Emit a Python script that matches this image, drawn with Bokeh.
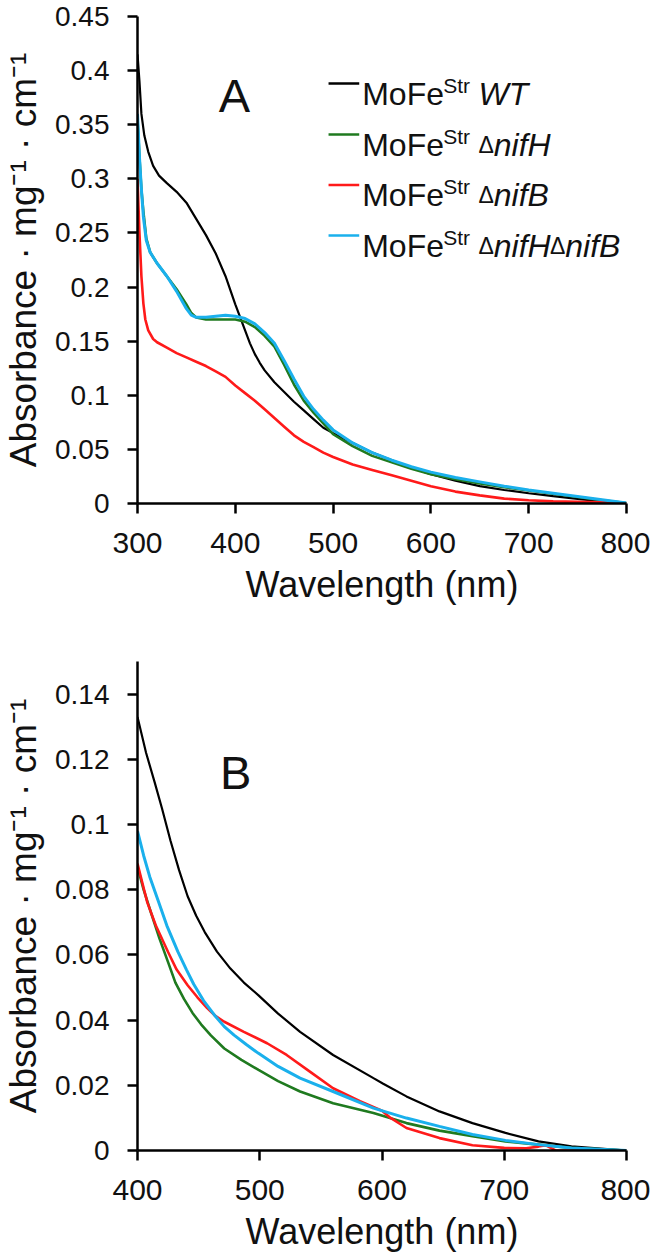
import math
from bokeh.plotting import figure
from bokeh.models import Range1d, FixedTicker, CustomJSTickFormatter, Label
from bokeh.layouts import column
from bokeh.embed import file_html
from bokeh.resources import INLINE

FONT = "Liberation Sans"

# ---------------- data: panel A ----------------
a_wt_x = [300, 302, 304, 307, 311, 316, 322, 330, 340, 350, 362, 370, 380, 390, 400, 405, 410, 415, 420,
          425, 430, 440, 450, 460, 470, 480, 490, 500, 520, 540, 560, 580, 600, 625, 650, 675, 700, 725,
          750, 775, 800]
a_wt_y = [0.415, 0.39, 0.36, 0.34, 0.325, 0.312, 0.303, 0.296, 0.288, 0.278, 0.26, 0.248, 0.231, 0.21,
          0.184, 0.172, 0.160, 0.148, 0.138, 0.130, 0.123, 0.112, 0.103, 0.094, 0.086, 0.078, 0.070,
          0.065, 0.056, 0.047, 0.040, 0.033, 0.027, 0.021, 0.016, 0.0125, 0.0095, 0.0068, 0.0042,
          0.002, 0.0]

a_h_x = [300, 302, 304, 306, 309, 313, 320, 330, 340, 350, 355, 360, 370, 380, 390, 400, 410, 420, 430,
         440, 450, 460, 470, 480, 490, 500, 520, 540, 560, 580, 600, 625, 650, 675, 700, 725, 750, 775, 800]
a_h_y = [0.355, 0.32, 0.29, 0.27, 0.245, 0.232, 0.222, 0.21, 0.198, 0.184, 0.176, 0.172, 0.170, 0.170,
         0.170, 0.170, 0.168, 0.163, 0.155, 0.145, 0.128, 0.110, 0.095, 0.084, 0.074, 0.064, 0.053,
         0.044, 0.038, 0.032, 0.027, 0.0225, 0.0185, 0.015, 0.012, 0.009, 0.006, 0.003, 0.0005]

a_b_x = [300, 302, 304, 306, 308, 311, 316, 320, 330, 340, 350, 360, 370, 380, 390, 400, 410, 420, 430,
         440, 450, 460, 470, 480, 490, 500, 520, 540, 560, 580, 600, 625, 650, 675, 700, 725, 750, 775, 800]
a_b_y = [0.30, 0.25, 0.21, 0.185, 0.17, 0.16, 0.152, 0.149, 0.144, 0.139, 0.135, 0.131, 0.127, 0.122,
         0.117, 0.109, 0.102, 0.095, 0.087, 0.079, 0.071, 0.063, 0.057, 0.052, 0.047, 0.043, 0.036,
         0.031, 0.026, 0.021, 0.016, 0.011, 0.0075, 0.0045, 0.003, 0.002, 0.0015, 0.001, 0.0]

a_hb_x = [300, 302, 304, 306, 309, 313, 320, 330, 340, 350, 355, 360, 370, 380, 390, 400, 410, 420, 430,
          440, 450, 460, 470, 480, 490, 500, 520, 540, 560, 580, 600, 625, 650, 675, 700, 725, 750, 775, 800]
a_hb_y = [0.36, 0.32, 0.29, 0.265, 0.243, 0.232, 0.222, 0.21, 0.196, 0.180, 0.174, 0.172, 0.172, 0.173,
          0.174, 0.173, 0.171, 0.166, 0.158, 0.148, 0.132, 0.115, 0.099, 0.087, 0.077, 0.068, 0.056,
          0.047, 0.040, 0.034, 0.029, 0.024, 0.020, 0.016, 0.0125, 0.0095, 0.0065, 0.0035, 0.0005]

# ---------------- data: panel B ----------------
b_wt_x = [400, 407, 414, 420, 427, 434, 441, 448, 455, 465, 476, 487, 499, 515, 533, 560, 593, 601, 620,
          647, 674, 701, 728, 755, 800]
b_wt_y = [0.133, 0.122, 0.113, 0.105, 0.095, 0.086, 0.078, 0.072, 0.067, 0.061, 0.0558, 0.0515, 0.0476,
          0.042, 0.0364, 0.0293, 0.0222, 0.0205, 0.0166, 0.012, 0.0084, 0.0054, 0.0028, 0.0013, 0.0]

b_h_x = [400, 405, 411, 418, 425, 431, 438, 445, 452, 460, 471, 485, 499, 515, 533, 560, 593, 620, 647,
         674, 701, 728, 755, 800]
b_h_y = [0.087, 0.080, 0.073, 0.065, 0.0578, 0.0515, 0.0465, 0.0422, 0.0387, 0.0353, 0.0313, 0.0278,
         0.0247, 0.0213, 0.0181, 0.0145, 0.0115, 0.0084, 0.0061, 0.0044, 0.0028, 0.0018, 0.0008, 0.0]

b_b_x = [400, 404, 408, 415, 425, 432, 441, 449, 457, 464, 471, 487, 506, 522, 541, 560, 582, 600, 607,
         620, 647, 674, 700, 718, 728, 734, 738, 742, 770, 800]
b_b_y = [0.088, 0.082, 0.0761, 0.069, 0.0609, 0.0555, 0.0507, 0.047, 0.0437, 0.0412, 0.0395, 0.0364,
         0.0329, 0.0293, 0.0242, 0.0191, 0.0151, 0.0122, 0.0100, 0.0069, 0.0038, 0.0016, 0.0008, 0.0007,
         0.0012, 0.0016, 0.0008, 0.0, 0.0, 0.0]

b_hb_x = [400, 405, 410, 417, 424, 433, 440, 446, 454, 463, 471, 479, 489, 499, 515, 533, 560, 593, 620,
          647, 674, 701, 728, 755, 800]
b_hb_y = [0.098, 0.0905, 0.084, 0.0765, 0.069, 0.061, 0.0555, 0.051, 0.046, 0.0415, 0.038, 0.0354,
          0.0325, 0.0298, 0.0258, 0.0222, 0.0181, 0.013, 0.00995, 0.0074, 0.0049, 0.0031, 0.0018, 0.0008,
          0.0]

series_colors = ["#000000", "#1f7a1f", "#ff1a1a", "#1ab0ec"]
series_widths = [2.2, 2.6, 2.6, 3.0]
legend_suffix = [[("WT", "italic")],
                 [("Δ", "delta"), ("nifH", "italic")],
                 [("Δ", "delta"), ("nifB", "italic")],
                 [("Δ", "delta"), ("nifH", "italic"), ("Δ", "delta"), ("nifB", "italic")]]

a_xticks = [300, 400, 500, 600, 700, 800]
a_yticks = [0, 0.05, 0.1, 0.15, 0.2, 0.25, 0.3, 0.35, 0.4, 0.45]
b_xticks = [400, 500, 600, 700, 800]
b_yticks = [0, 0.02, 0.04, 0.06, 0.08, 0.1, 0.12, 0.14]

Y_TITLE = "Absorbance · mg⁻¹ · cm⁻¹"
X_TITLE = "Wavelength (nm)"

# Arial / Liberation Sans advance widths (em)
ADV = {"M": .833, "o": .556, "F": .611, "e": .556, "S": .667, "t": .278, "r": .333, " ": .278,
       "Δ": .668, "n": .556, "i": .222, "f": .278, "H": .722, "B": .667, "W": .944, "T": .611}


def text_width(s, size):
    return sum(ADV.get(c, .556) for c in s) * size


def make_panel(width, height, xr, yr, xticks, yticks, border, frame_page):
    p = figure(width=width, height=height, x_range=Range1d(*xr), y_range=Range1d(*yr),
               output_backend="svg", toolbar_location=None,
               min_border_left=border[0], min_border_right=border[1],
               min_border_top=border[2], min_border_bottom=border[3])
    p.grid.visible = False
    p.outline_line_color = None
    for ax in (p.xaxis[0], p.yaxis[0]):
        ax.axis_line_width = 2.5
        ax.axis_line_color = "black"
        ax.major_tick_line_width = 2.5
        ax.major_tick_line_color = "black"
        ax.major_tick_out = 10
        ax.major_tick_in = 0
        ax.minor_tick_out = 0
        ax.minor_tick_in = 0
        ax.major_label_text_font = FONT
        ax.major_label_text_color = "#111111"
        ax.axis_label_text_font = FONT
        ax.axis_label_text_font_style = "normal"
        ax.axis_label_text_color = "#111111"
    p.xaxis[0].ticker = FixedTicker(ticks=xticks)
    p.yaxis[0].ticker = FixedTicker(ticks=yticks)
    p.yaxis[0].formatter = CustomJSTickFormatter(code="return Number(tick.toFixed(3)).toString();")
    p.xaxis[0].major_label_text_font_size = "30px"
    p.yaxis[0].major_label_text_font_size = "28px"
    p.xaxis[0].major_label_standoff = 19
    p.yaxis[0].major_label_standoff = 18
    p.xaxis[0].axis_label = X_TITLE
    p.xaxis[0].axis_label_text_font_size = "36px"
    p.xaxis[0].axis_label_standoff = 8
    p.yaxis[0].axis_label = Y_TITLE
    p.yaxis[0].axis_label_text_font_size = "37px"
    p.yaxis[0].axis_label_standoff = 8

    left, right, top, bottom = frame_page

    def conv(px, py):
        return (xr[0] + (px - left) / (right - left) * (xr[1] - xr[0]),
                yr[0] + (bottom - py) / (bottom - top) * (yr[1] - yr[0]))
    return p, conv


def add_letter(p, conv, letter, page_x, page_base):
    x, y = conv(page_x, page_base)
    p.add_layout(Label(x=x, y=y, text=letter, text_font=FONT, text_font_size="47px",
                       text_align="center", text_baseline="alphabetic", text_color="#111111"))


# ---------------- panel A ----------------
A_H = 620
A_FRAME = (134, 628, 16, 503)
pA, convA = make_panel(650, A_H, (300, 800), (0, 0.45), a_xticks, a_yticks,
                       (134, 650 - 628, 16, A_H - 503), A_FRAME)
for xs, ys, c, w in zip([a_wt_x, a_h_x, a_b_x, a_hb_x], [a_wt_y, a_h_y, a_b_y, a_hb_y],
                        series_colors, series_widths):
    pA.line(xs, ys, line_color=c, line_width=w)
add_letter(pA, convA, "A", 232, 95)

# legend (panel A)
leg_rows = [83, 134, 184.5, 235]
for row_y, c, suffix in zip(leg_rows, series_colors, legend_suffix):
    x0, y0 = convA(327, row_y)
    x1, _ = convA(358, row_y)
    pA.line([x0, x1], [y0, y0], line_color=c, line_width=2.6)
    base = row_y + 10
    pieces = [("MoFe", 32, "normal", 0), ("Str", 21, "normal", 8.5), (" ", 32, "normal", 0)]
    for txt, kind in suffix:
        if kind == "delta":
            pieces.append((txt, 23, "normal", 0))
        else:
            pieces.append((txt, 32, "italic", 0))
    px = 361
    for txt, size, style, rise in pieces:
        if txt.strip():
            lx, ly = convA(px, base - rise)
            pA.add_layout(Label(x=lx, y=ly, text=txt, text_font=FONT, text_font_size=f"{size}px",
                                text_font_style=style, text_align="left", text_baseline="alphabetic",
                                text_color="#111111"))
        px += text_width(txt, size)

# ---------------- panel B ----------------
B_H = 1255 - A_H
B_FRAME = (133, 626, 661, 1150)
pB, convB = make_panel(650, B_H, (400, 800), (0, 0.15), b_xticks, b_yticks,
                       (133, 650 - 626, 661 - A_H, B_H - (1150 - A_H)), B_FRAME)
for xs, ys, c, w in zip([b_wt_x, b_h_x, b_b_x, b_hb_x], [b_wt_y, b_h_y, b_b_y, b_hb_y],
                        series_colors, series_widths):
    pB.line(xs, ys, line_color=c, line_width=w)
add_letter(pB, convB, "B", 232, 771.7)

layout = column(pA, pB)
open("out.html", "w").write(file_html(layout, INLINE))
